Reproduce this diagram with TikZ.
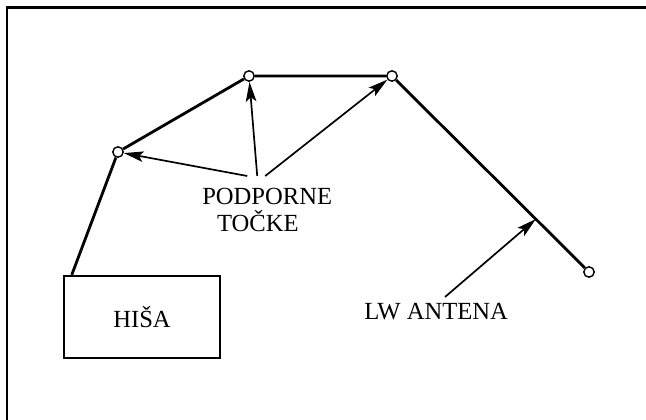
\documentclass[tikz,border=0pt]{standalone}
\usepackage{fontspec}
\setmainfont{Liberation Serif}
\usetikzlibrary{positioning,arrows.meta,calc}

\begin{document}
\begin{tikzpicture}[x=0.025cm,y=-0.025cm,
    >={Stealth[length=14pt,width=7.5pt,inset=3pt]},
    wire/.style={line width=2pt},
    ptr/.style={->,line width=1.2pt},
    support/.style={circle,draw,fill=white,line width=1pt,inner sep=0pt,minimum size=0.26cm},
    house/.style={draw,line width=1.7pt,minimum width=3.9cm,minimum height=2.05cm},
    lbl/.style={font=\fontsize{17.5}{19}\selectfont,inner sep=0pt}]
  \useasboundingbox (0,0) rectangle (646,420);
  % okvir
  \draw[line width=2.1pt] (7,420) -- (7,7.7) -- (646,7.7);
  % hisa in podporne tocke
  \node[house,lbl] (hisa) at (142,317) {HIŠA};
  \node[support] (a) at (118,152) {};
  \node[support] (b) at (249,76) {};
  \node[support] (c) at (392,76) {};
  \node[support] (d) at (589,272) {};
  \coordinate (dovod) at ($(hisa.north west)+(9,0)$);
  \draw[wire] (dovod) -- (a) -- (b) -- (c) -- (d);
  % napisi
  \node[lbl,align=left,anchor=north west] (tocke) at (202,188) {PODPORNE\\\hspace{0.37cm}TOČKE};
  \node[lbl,anchor=north west] (lw) at (364,303) {LW ANTENA};
  \draw[ptr] ($(tocke.north)+(-20,-12)$) -- (a);
  \draw[ptr] ($(tocke.north)+(-10,-12)$) -- (b);
  \draw[ptr] ($(tocke.north)+(-2,-12)$) -- (c);
  \coordinate (zica) at ($(c)!0.73!(d)$);
  \draw[ptr] ($(lw.north west)+(81,-6)$) -- (zica);
\end{tikzpicture}
\end{document}
